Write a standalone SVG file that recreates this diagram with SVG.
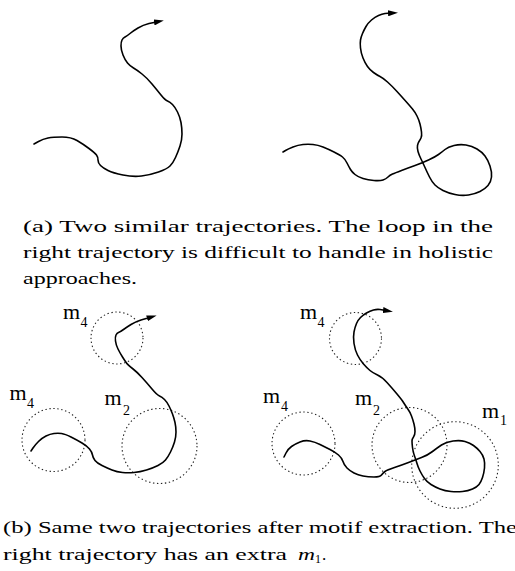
<svg xmlns="http://www.w3.org/2000/svg" width="515" height="571" viewBox="0 0 515 571">
<style>
.traj{fill:none;stroke:#000;stroke-width:1.6;stroke-linejoin:round;stroke-linecap:round;marker-end:url(#arr)}
.motif{fill:none;stroke:#222;stroke-width:1.1;stroke-dasharray:1.4 2.6}
.lbl{font-size:22px;fill:#000}
.sub{font-size:14px;fill:#000}
.cap{font-size:17px;fill:#000}
</style>
<defs>
<marker id="arr" viewBox="0 0 10 6" refX="0" refY="3" markerWidth="10" markerHeight="6" markerUnits="userSpaceOnUse" orient="auto">
<path d="M0,0 L10,3 L0,6 z" fill="#000"/>
</marker>
</defs>
<rect width="515" height="571" fill="#fff"/>

<g id="traj-a-left">
<path class="traj" d="M34,144 L38.5,141.5 Q43,139 48,138 Q53,137 62,137 Q71,137 77,140.5 Q83,144 89,148.5 Q95,153 96.5,155 Q98,157 98,160 Q98,163 100.5,165.5 Q103,168 108,170.5 Q113,173 123,175 Q133,177 141.5,176 Q150,175 158.5,172 Q167,169 170,166 Q173,163 175.5,157.5 Q178,152 180,146 Q182,140 182,134 Q182,128 181,122.5 Q180,117 177.5,112 Q175,107 172.5,104.5 Q170,102 167.5,101 Q165,100 161,95 Q157,90 152,84 Q147,78 142,74 Q137,70 133.5,68 Q130,66 127.5,63 Q125,60 123,55 Q121,50 121,46 Q121,42 122,40 Q123,38 125,37 Q127,36 130,33.5 Q133,31 138,28 Q143,25 149,23.5 L154,22.5"/>
</g>

<g id="traj-a-right">
<path class="traj" d="M283,152 L285.5,150.5 Q288,149 293,147 Q298,145 303,144.5 Q308,144 313,144.5 Q318,145 323,147 Q328,149 334,152 Q340,155 342.5,157 Q345,159 347,163 Q349,167 350.5,169.5 Q352,172 355,174.5 Q358,177 363,178.5 Q368,180 374,180.5 Q380,181 383,180 Q386,179 388,177 Q390,175 392.5,174 Q395,173 401.5,170.5 Q408,168 415,165.5 Q422,163 428.5,160 Q435,157 438.5,154.5 Q442,152 445,149.5 Q448,147 454,145.5 Q460,144 466,145 Q472,146 477,149 Q482,152 485,156 Q488,160 490,166 Q492,172 491.5,177 Q491,182 488,185.5 Q485,189 480,191.5 Q475,194 468.5,195 Q462,196 455,194.5 Q448,193 443,190.5 Q438,188 435,185 Q432,182 429.5,177 Q427,172 425,167.5 Q423,163 421,159 Q419,155 418,151.5 Q417,148 417.5,145.5 Q418,143 419,141.5 Q420,140 421,138 Q422,136 421.5,132 Q421,128 420,124 Q419,120 417,116 Q415,112 412.5,109 Q410,106 406,101.5 Q402,97 397,91.5 Q392,86 387.5,82 Q383,78 380,76.5 Q377,75 373.5,72.5 Q370,70 367.5,66.5 Q365,63 363,58 Q361,53 360.5,48 Q360,43 360.5,40 Q361,37 362.5,33.5 Q364,30 366,26.5 Q368,23 371.5,20 Q375,17 378.5,15.5 Q382,14 385,13.5 L388,13.3"/>
</g>

<g id="caption-a" class="cap" font-family="Liberation Serif, serif">
<text x="23" y="232" textLength="470" lengthAdjust="spacingAndGlyphs">(a) Two similar trajectories.  The loop in the</text>
<text x="23" y="258" textLength="470" lengthAdjust="spacingAndGlyphs">right trajectory is difficult to handle in holistic</text>
<text x="23" y="284" textLength="114" lengthAdjust="spacingAndGlyphs">approaches.</text>
</g>

<g id="motifs-b-left">
<circle class="motif" cx="117" cy="338" r="26"/>
<circle class="motif" cx="53.5" cy="440" r="31.5"/>
<circle class="motif" cx="159.5" cy="446" r="37.5"/>
</g>
<g id="traj-b-left">
<path class="traj" d="M31,451 L33,448 Q35,445 38.5,441.5 Q42,438 46,436 Q50,434 54,433.5 Q58,433 61.5,433.5 Q65,434 71,437 Q77,440 82,443 Q87,446 89.5,449 Q92,452 92.5,455 Q93,458 95,460.5 Q97,463 102,465.5 Q107,468 112,470 Q117,472 122.5,472.5 Q128,473 134,472.5 Q140,472 146.5,470 Q153,468 158,465.5 Q163,463 165.5,460 Q168,457 170.5,452 Q173,447 174.5,442 Q176,437 176,432 Q176,427 175,422.5 Q174,418 172.5,414 Q171,410 169,406 Q167,402 164.5,399.5 Q162,397 159.5,396 Q157,395 152,389 Q147,383 142,377.5 Q137,372 132.5,368.5 Q128,365 126.5,363 Q125,361 122.5,357 Q120,353 118,349 Q116,345 115.5,341 Q115,337 116,335 Q117,333 118.5,332.5 Q120,332 123.5,329.5 Q127,327 131,324.5 Q135,322 141,320 L147,318.3"/>
</g>
<g id="labels-b-left" font-family="Liberation Serif, serif">
<text class="lbl" x="63" y="319">m</text><text class="sub" x="80.5" y="327">4</text>
<text class="lbl" x="9.5" y="400">m</text><text class="sub" x="27" y="408">4</text>
<text class="lbl" x="104.5" y="405">m</text><text class="sub" x="123" y="415">2</text>
</g>

<g id="motifs-b-right">
<circle class="motif" cx="355.5" cy="338.5" r="26"/>
<circle class="motif" cx="303.5" cy="443.5" r="31.5"/>
<circle class="motif" cx="409.5" cy="445" r="37.5"/>
<circle class="motif" cx="455" cy="465" r="43.3"/>
</g>
<g id="traj-b-right">
<path class="traj" d="M284,457 L286,453 Q288,449 291.5,446.5 Q295,444 300,442 Q305,440 310,441 Q315,442 320,444.5 Q325,447 330,449.5 Q335,452 338.5,455 Q342,458 343,461.5 Q344,465 347,468 Q350,471 354,473 Q358,475 363,476 Q368,477 374,477 Q380,477 381.5,475 Q383,473 385,471.5 Q387,470 394.5,467.5 Q402,465 408.5,462.5 Q415,460 421.5,457.5 Q428,455 432.5,451.5 Q437,448 441.5,445 Q446,442 453,441 Q460,440 465,441.5 Q470,443 473.5,445.5 Q477,448 480,451.5 Q483,455 484,459 Q485,463 484.5,468 Q484,473 482.5,477.5 Q481,482 479,484.5 Q477,487 472.5,489 Q468,491 462.5,491.5 Q457,492 451,491.5 Q445,491 440,489 Q435,487 431,484.5 Q427,482 424.5,478.5 Q422,475 420,471 Q418,467 417,463.5 Q416,460 414.5,456 Q413,452 412.5,447.5 Q412,443 412,441 Q412,439 413.5,437 Q415,435 415,431.5 Q415,428 414,424 Q413,420 411.5,416 Q410,412 407.5,408.5 Q405,405 403.5,402.5 Q402,400 397,394 Q392,388 387,382.5 Q382,377 377.5,375 Q373,373 370,370.5 Q367,368 363.5,364 Q360,360 357.5,355 Q355,350 354,343.5 Q353,337 354,332 Q355,327 356.5,323.5 Q358,320 360.5,317.5 Q363,315 366.5,313 Q370,311 373.5,310 Q377,309 380,309.5 L383,310"/>
</g>
<g id="labels-b-right" font-family="Liberation Serif, serif">
<text class="lbl" x="300" y="319">m</text><text class="sub" x="317.5" y="327">4</text>
<text class="lbl" x="263" y="403">m</text><text class="sub" x="281" y="411">4</text>
<text class="lbl" x="355" y="405">m</text><text class="sub" x="373" y="415">2</text>
<text class="lbl" x="482" y="418">m</text><text class="sub" x="500" y="425">1</text>
</g>

<g id="caption-b" class="cap" font-family="Liberation Serif, serif">
<text x="3" y="533" textLength="514" lengthAdjust="spacingAndGlyphs">(b) Same two trajectories after motif extraction.  The</text>
<text x="3" y="560" textLength="284" lengthAdjust="spacingAndGlyphs">right trajectory has an extra</text>
<text x="298" y="560" textLength="17" lengthAdjust="spacingAndGlyphs" font-style="italic">m</text>
<text x="315" y="563" font-size="12">1</text>
<text x="322" y="560">.</text>
</g>
</svg>
